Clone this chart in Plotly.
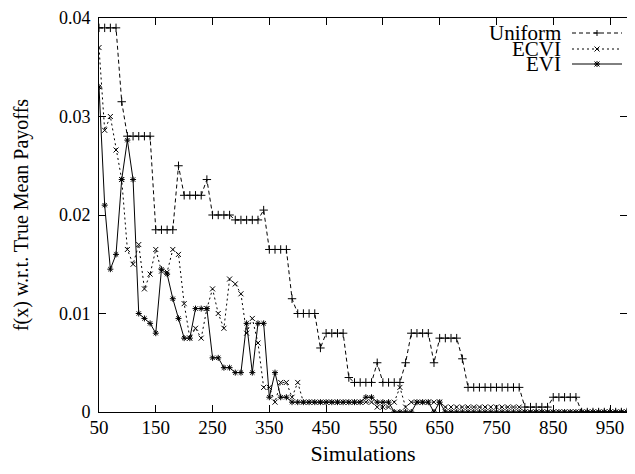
import plotly.graph_objects as go

# Simulation counts (x positions)
sims = list(range(50, 1000, 10))

uniform = [0.039, 0.039, 0.039, 0.039, 0.0315, 0.028, 0.028, 0.028, 0.028, 0.028,
           0.0185, 0.0185, 0.0185, 0.0185, 0.025, 0.022, 0.022, 0.022, 0.022, 0.0236,
           0.020, 0.020, 0.020, 0.020, 0.0195, 0.0195, 0.0195, 0.0195, 0.0195, 0.0205,
           0.0165, 0.0165, 0.0165, 0.0165, 0.0115, 0.010, 0.010, 0.010, 0.010, 0.0065,
           0.008, 0.008, 0.008, 0.008, 0.0035, 0.003, 0.003, 0.003, 0.003, 0.005,
           0.003, 0.003, 0.003, 0.003, 0.005, 0.008, 0.008, 0.008, 0.008, 0.005,
           0.0075, 0.0075, 0.0075, 0.0075, 0.0054,
           0.0025, 0.0025, 0.0025, 0.0025, 0.0025, 0.0025, 0.0025, 0.0025, 0.0025, 0.0025,
           0.0005, 0.0005, 0.0005, 0.0005, 0.0005,
           0.0015, 0.0015, 0.0015, 0.0015, 0.0015,
           0, 0, 0, 0, 0, 0, 0, 0, 0, 0]

ecvi = [0.037, 0.0286, 0.030, 0.0266, 0.0236, 0.0165, 0.015, 0.017, 0.0125, 0.014,
        0.0165, 0.0143, 0.0142, 0.0165, 0.016, 0.011, 0.0075, 0.0085, 0.0075, 0.0105,
        0.0125, 0.010, 0.0085, 0.0135, 0.013, 0.012, 0.008, 0.0095, 0.007, 0.0025,
        0.0025, 0.001, 0.003, 0.003, 0.0015, 0.003,
        0.001, 0.001, 0.001, 0.001, 0.001, 0.001, 0.001, 0.001, 0.001, 0.001, 0.001,
        0.001, 0.001, 0.0005, 0.0005, 0.0005, 0.001, 0.0025, 0.0005,
        0.001, 0.001, 0.001, 0.001, 0.001, 0.001,
        0.0005, 0.0005, 0.0005, 0.0005, 0.0005, 0.0005, 0.0005,
        0.0005, 0.0005, 0.0005, 0.0005, 0.0005, 0.0005, 0.0005,
        0, 0, 0, 0, 0, 0, 0, 0, 0, 0, 0, 0, 0, 0, 0, 0, 0, 0, 0, 0]

evi = [0.033, 0.021, 0.0145, 0.016, 0.0236, 0.0276, 0.0236, 0.010, 0.0095, 0.009,
       0.008, 0.0145, 0.014, 0.0115, 0.0095, 0.0075, 0.0075, 0.0105, 0.0105, 0.0105,
       0.0055, 0.0055, 0.0045, 0.0045, 0.004, 0.004, 0.009, 0.004, 0.009, 0.009,
       0.0015, 0.004, 0.0015, 0.0015, 0.001,
       0.001, 0.001, 0.001, 0.001, 0.001, 0.001, 0.001, 0.001, 0.001, 0.001, 0.001, 0.001,
       0.0015, 0.0015, 0.001, 0.001, 0.001, 0, 0, 0, 0,
       0.001, 0.001, 0.001, 0, 0.001,
       0, 0, 0, 0, 0, 0, 0, 0, 0, 0, 0, 0, 0, 0, 0, 0, 0,
       0, 0, 0, 0, 0, 0, 0, 0, 0, 0, 0, 0, 0, 0, 0, 0, 0]

x_ticks = [50, 150, 250, 350, 450, 550, 650, 750, 850, 950]
y_ticks = [0, 0.01, 0.02, 0.03, 0.04]
y_tick_labels = ["0", "0.01", "0.02", "0.03", "0.04"]

FONT = "Liberation Serif, Times New Roman, serif"

series = [
    ("Uniform", uniform, "4px,3px", "cross-thin", 6),
    ("ECVI", ecvi, "2px,3px", "x-thin", 5),
    ("EVI", evi, "solid", "asterisk", 5),
]

fig = go.Figure()
for name, vals, dash, sym, size in series:
    fig.add_trace(go.Scatter(
        x=sims, y=vals, name=name, mode="lines+markers",
        line=dict(color="black", width=1, dash=dash),
        marker=dict(symbol=sym, size=size, color="black",
                    line=dict(color="black", width=1)),
        cliponaxis=True, showlegend=False))

# The page body adds an 8px margin; keep the figure inside the window.
OFF = 8
W, H = 635 - 2 * OFF, 474 - 2 * OFF          # 619 x 458
L, T = 99 - OFF, 18 - OFF                     # plot area starts at page (99, 18)
B = H - (412 - OFF)                           # plot bottom at page y 412
R = 0
pw, ph = W - L - R, H - T - B
X_MAX = 50 + (pw / (610 - 99)) * 900          # 50 -> 99px, 950 -> 610px


def px2paper(px, py):
    # px, py are page pixel positions
    return (px - OFF - L) / pw, (H - B - (py - OFF)) / ph


legend_rows = [(33, "Uniform", "4px,3px", "+"), (49, "ECVI", "2px,3px", "x"), (64, "EVI", "solid", "*")]
shapes = []
annotations = []
for py, label, dash, mk in legend_rows:
    x0, y0 = px2paper(572, py)
    x1, _ = px2paper(622, py)
    xt, _ = px2paper(562, py)
    xm, _ = px2paper(597, py)
    annotations.append(dict(x=xt, y=y0, xref="paper", yref="paper", text=label,
                            showarrow=False, xanchor="right", yanchor="middle",
                            borderpad=0,
                            font=dict(family=FONT, size=21, color="black")))
    shapes.append(dict(type="line", xref="paper", yref="paper", x0=x0, x1=x1, y0=y0, y1=y0,
                       line=dict(color="black", width=1, dash=dash)))
    segs = []
    if mk in ("+", "*"):
        segs += [(-3, 0, 3, 0), (0, -3, 0, 3)]
    if mk in ("x", "*"):
        segs += [(-2.5, -2.5, 2.5, 2.5), (-2.5, 2.5, 2.5, -2.5)]
    for a, b, c, d in segs:
        shapes.append(dict(type="line", xref="paper", yref="paper",
                           xsizemode="pixel", ysizemode="pixel",
                           xanchor=xm, yanchor=y0, x0=a, y0=b, x1=c, y1=d,
                           line=dict(color="black", width=1)))

fig.update_layout(
    width=W, height=H,
    margin=dict(l=L, r=R, t=T, b=B, autoexpand=False),
    paper_bgcolor="white", plot_bgcolor="white",
    font=dict(family=FONT, size=20, color="black"),
    shapes=shapes, annotations=annotations,
    xaxis=dict(range=[50, X_MAX], tickvals=x_ticks, ticks="inside", ticklen=7,
               tickcolor="black", showline=True, linecolor="black", linewidth=1,
               mirror="ticks", showgrid=False, zeroline=False, automargin=False,
               ticklabeloverflow="allow", ticklabelstandoff=-2,
               title=dict(text="Simulations", font=dict(size=22), standoff=20),
               tickfont=dict(size=19)),
    yaxis=dict(range=[0, 0.04], tickvals=y_ticks, ticktext=y_tick_labels,
               ticks="inside", ticklen=7, tickcolor="black", showline=True,
               linecolor="black", linewidth=1, mirror="ticks", showgrid=False,
               zeroline=False, automargin=False, ticklabeloverflow="allow",
               ticklabelstandoff=4,
               title=dict(text="f(x) w.r.t. True Mean Payoffs", font=dict(size=20), standoff=24),
               tickfont=dict(size=18)),
)

fig.write_html("out.html")
